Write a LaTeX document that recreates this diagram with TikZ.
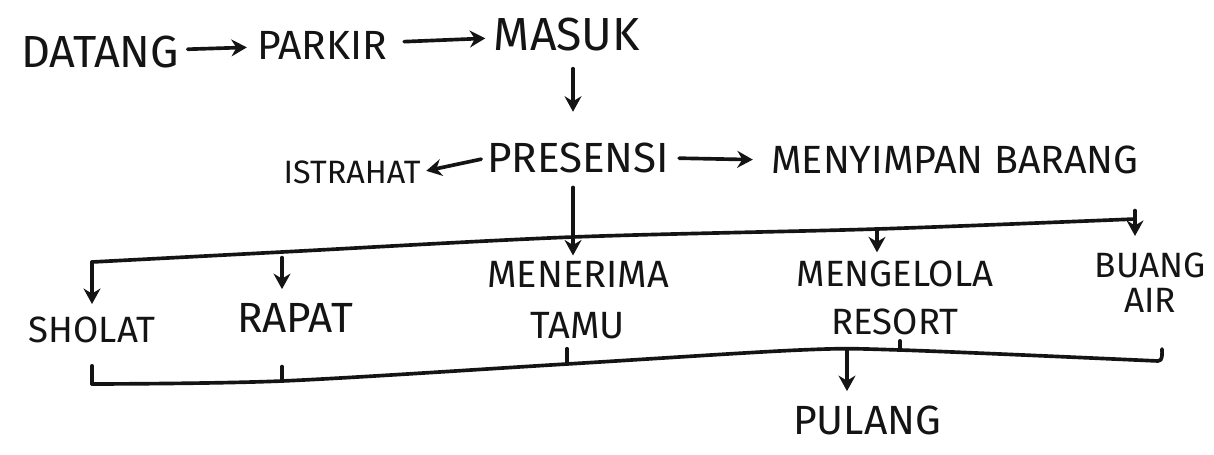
\documentclass[tikz,border=0pt]{standalone}
\usepackage{fontspec}
\setmainfont{Fira Sans}
\usetikzlibrary{arrows.meta}
\newcommand\fsz[2]{\fontsize{#1}{#2}\selectfont}
\begin{document}
\begin{tikzpicture}[x=0.025cm,y=-0.025cm,
  lbl/.style={inner sep=0pt, align=center, text=ink, font=\fsz{29}{34}},
  ln/.style={draw=ink, line width=2.6pt, line cap=round, line join=round},
  arr/.style={ln, -{Stealth[length=11pt,width=12pt]}}]
\definecolor{ink}{HTML}{141414}
\useasboundingbox[fill=white] (0,0) rectangle (1214,454);

% activity labels
\node[lbl, font=\fsz{32}{36}] (datang) at (100,52) {DATANG};
\node[lbl] (parkir) at (322,45) {PARKIR};
\node[lbl, font=\fsz{33}{36}] (masuk) at (567,35) {MASUK};
\node[lbl, font=\fsz{23}{26}] (istrahat) at (352,172) {ISTRAHAT};
\node[lbl, font=\fsz{30}{34}] (presensi) at (578,158) {PRESENSI};
\node[lbl, font=\fsz{28}{32}] (simpan) at (955,160) {MENYIMPAN BARANG};
\node[lbl, font=\fsz{26}{30}] (sholat) at (92,330) {SHOLAT};
\node[lbl, font=\fsz{30}{34}] (rapat) at (295,318) {RAPAT};
\node[lbl, font=\fsz{27}{36}] (tamu) at (578,300) {MENERIMA\\TAMU};
\node[lbl, font=\fsz{26}{34}] (kelola) at (895,298) {MENGELOLA\\RESORT};
\node[lbl, font=\fsz{25}{25}] (buang) at (1150,283) {BUANG\\AIR};
\node[lbl, font=\fsz{29}{34}] (pulang) at (867,420) {PULANG};

% branching line under PRESENSI
\coordinate (bL) at (92,262);
\coordinate (bRap) at (282,252);
\coordinate (bM) at (573,237);
\coordinate (bK) at (877,229);
\coordinate (bR) at (1135,219);

% joining line above PULANG
\coordinate (cL) at (92,384);
\coordinate (cRap) at (282,381);
\coordinate (cT) at (567,364);
\coordinate (cK) at (800,350);
\coordinate (cP) at (847,349);
\coordinate (cS) at (900,350);
\coordinate (cR) at (1158,361);
\coordinate (cRtop) at (1162,349);

% top row
\draw[arr, shorten <=6pt, shorten >=7pt] (datang) -- (parkir);
\draw[arr, shorten <=12pt, shorten >=6pt] (parkir) -- (masuk);
\draw[arr, shorten <=12pt, shorten >=22pt] (masuk.south -| bM) -- (presensi.north -| bM);

% second row
\draw[arr, shorten <=4pt, shorten >=4pt] (presensi.west) -- (istrahat.east);
\draw[arr, shorten <=7pt, shorten >=13pt] (presensi.east) -- (simpan.west);

% split into the five activities
\draw[ln] plot[smooth, tension=0.5] coordinates {(bL) (bRap) (bM) (bK) (bR)};
\draw[arr, shorten <=10pt, shorten >=4pt] (presensi.south -| bM) -- (tamu.north -| bM);
\draw[arr, shorten >=9pt] (bL) -- (sholat.north -| bL);
\draw[arr, shorten <=4pt, shorten >=10pt] (bRap) -- (rapat.north -| bRap);
\draw[arr, shorten >=6pt] (bK) -- (kelola.north -| bK);
\draw[arr, shorten <=-6pt, shorten >=12pt] (bR) -- (buang.north -| bR);

% joining bracket
\draw[ln, shorten <=16pt] (sholat.south -| cL) -- (cL);
\draw[ln] plot[smooth, tension=0.5] coordinates {(cL) (cRap) (cT) (cK) (cS) (cR)} to[out=0,in=-90] (cRtop);
\draw[ln, shorten <=24pt] (rapat.south -| cRap) -- (cRap);
\draw[ln, shorten <=7pt] (tamu.south -| cT) -- (cT);
\draw[ln, shorten <=4pt] (kelola.south -| cS) -- (cS);
\draw[arr, shorten >=10pt] (cP) -- (pulang.north -| cP);
\end{tikzpicture}
\end{document}
